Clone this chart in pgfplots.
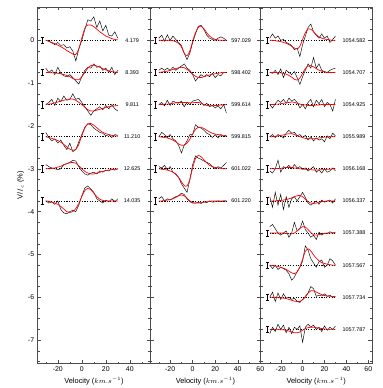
\documentclass[border=0pt]{standalone}
\usepackage{fontspec}
\setmainfont{Liberation Sans}
\usepackage{pgfplots}
\usepackage{pgfplotstable}
\pgfplotsset{compat=1.18}

% "I"-shaped mark for the error bar at the left of each profile
\pgfdeclareplotmark{ibar}{%
  \pgfpathmoveto{\pgfqpoint{0pt}{-\pgfplotmarksize}}%
  \pgfpathlineto{\pgfqpoint{0pt}{\pgfplotmarksize}}%
  \pgfpathmoveto{\pgfqpoint{-0.45\pgfplotmarksize}{\pgfplotmarksize}}%
  \pgfpathlineto{\pgfqpoint{0.45\pgfplotmarksize}{\pgfplotmarksize}}%
  \pgfpathmoveto{\pgfqpoint{-0.45\pgfplotmarksize}{-\pgfplotmarksize}}%
  \pgfpathlineto{\pgfqpoint{0.45\pgfplotmarksize}{-\pgfplotmarksize}}%
  \pgfusepathqstroke}

% black = observed profile, red = fit; columns bK/rK per profile
\pgfplotstableread{
x     b1    r1    b2    r2    b3    r3    b4    r4    b5    r5    b6    r6
-30   0     0     0.1   0     0     0     0.1   0     0.1   0     0     0
-27.5 -0.02 -0.02 0     0     0.05  0.01  -0.02 -0.02 0.05  0     -0.05 -0.01
-25   -0.06 -0.05 0.06  -0.01 0.12  0.02  -0.1  -0.04 0.02  0.01  -0.02 -0.03
-22.5 -0.1  -0.08 -0.05 -0.01 -0.02 0.04  -0.05 -0.06 0     0.02  -0.08 -0.05
-20   -0.05 -0.11 0.12  -0.02 0.15  0.06  -0.15 -0.09 -0.02 0.04  0     -0.08
-17.5 -0.12 -0.15 -0.02 -0.03 0.07  0.08  -0.08 -0.13 0     0.06  -0.2  -0.13
-15   -0.1  -0.19 -0.08 -0.05 0.2   0.1   -0.2  -0.18 0.1   0.09  -0.28 -0.19
-12.5 -0.18 -0.24 -0.1  -0.07 0.1   0.12  -0.3  -0.24 0.12  0.12  -0.3  -0.25
-10   -0.15 -0.28 -0.05 -0.1  0.12  0.13  -0.15 -0.29 0.15  0.14  -0.25 -0.27
-7.5  -0.25 -0.32 -0.12 -0.14 0.25  0.13  -0.35 -0.32 0.2   0.15  -0.22 -0.25
-5    -0.48 -0.33 -0.2  -0.17 0.12  0.1   -0.3  -0.3  0.18  0.13  -0.25 -0.18
-2.5  -0.2  -0.2  -0.27 -0.17 0.15  0.05  -0.12 -0.18 0.05  0.07  -0.1  -0.06
0     0     0.05  -0.1  -0.1  0.05  0     0.05  0.02  -0.05 0     0.12  0.1
2.5   0.25  0.28  0.05  0     -0.05 -0.06 0.22  0.2   -0.12 -0.06 0.3   0.24
5     0.48  0.36  0.12  0.1   -0.15 -0.12 0.3   0.3   -0.15 -0.1  0.35  0.29
7.5   0.45  0.36  0.1   0.16  -0.25 -0.15 0.28  0.31  -0.1  -0.12 0.28  0.26
10    0.55  0.32  0.2   0.17  -0.15 -0.15 0.2   0.27  -0.08 -0.12 0.2   0.18
12.5  0.3   0.26  0.12  0.15  -0.1  -0.13 0.15  0.21  -0.12 -0.1  0.05  0.1
15    0.45  0.2   0.15  0.12  -0.05 -0.11 0.1   0.15  -0.05 -0.08 0     0.04
17.5  0.22  0.15  0.05  0.09  -0.12 -0.09 0.08  0.1   -0.08 -0.06 -0.05 0.01
20    0.35  0.1   0.1   0.06  -0.02 -0.07 0.02  0.07  -0.03 -0.04 0.02  0
22.5  0.12  0.07  0     0.04  -0.1  -0.05 0.05  0.05  -0.05 -0.03 -0.02 0
25    0.1   0.04  0.12  0.02  0     -0.04 -0.02 0.03  0     -0.02 0.05  0
27.5  0.2   0.02  -0.05 0.01  -0.1  -0.03 0.05  0.02  -0.03 -0.01 -0.02 0
30    0.05  0.01  0.05  0     -0.15 -0.02 0.03  0.01  0     0     0.05  0
}\tabA

\pgfplotstableread{
x     b1    r1    b2    r2    b3    r3    b4    r4    b5    r5    b6    r6
-30   0.05  0     0.05  0     0     0     0     0     0.05  0     0.05  0
-27.5 0.12  0     0.1   0.01  0.05  0     0.1   -0.01 0.02  -0.01 0.1   0
-25   -0.02 0     0.05  0.02  -0.03 0.01  0.05  -0.02 0.08  -0.02 0     0.01
-22.5 0.13  0     0.1   0.03  0.1   0.01  -0.02 -0.03 -0.02 -0.03 0.05  0.02
-20   0     0     0.05  0.05  -0.02 0.02  0.05  -0.05 0.05  -0.05 0.02  0.03
-17.5 0.1   -0.01 0.12  0.07  0.08  0.03  -0.05 -0.08 -0.08 -0.08 0.06  0.05
-15   0.02  -0.03 0.05  0.09  0.05  0.04  -0.1  -0.12 -0.12 -0.13 0.1   0.08
-12.5 -0.05 -0.07 0.1   0.11  0.03  0.05  -0.2  -0.17 -0.2  -0.2  0.12  0.12
-10   -0.12 -0.15 0.15  0.12  0.08  0.05  -0.38 -0.2  -0.35 -0.3  0.18  0.14
-7.5  -0.3  -0.3  0.2   0.11  -0.05 0.05  -0.2  -0.2  -0.45 -0.39 0.15  0.12
-5    -0.45 -0.36 0.1   0.07  0.05  0.05  -0.1  -0.15 -0.55 -0.4  0.05  0.06
-2.5  -0.3  -0.25 0.05  0.02  0     0.04  0.05  -0.06 -0.25 -0.25 -0.02 0
0     -0.05 -0.02 -0.05 -0.04 0.08  0.04  0.05  0.06  0.1   0.02  -0.05 -0.04
2.5   0.15  0.18  -0.2  -0.09 0.1   0.05  0.28  0.17  0.3   0.24  -0.05 -0.05
5     0.33  0.3   -0.12 -0.12 0.12  0.05  0.22  0.22  0.25  0.31  -0.03 -0.05
7.5   0.35  0.33  -0.05 -0.12 0.05  0.03  0.2   0.22  0.22  0.28  -0.06 -0.04
10    0.25  0.27  -0.1  -0.1  -0.02 0     0.15  0.19  0.18  0.21  -0.02 -0.03
12.5  0.12  0.18  -0.05 -0.08 0.03  -0.02 0.08  0.15  0.15  0.14  -0.04 -0.02
15    0.05  0.1   -0.1  -0.06 -0.05 -0.03 0.05  0.11  0.12  0.08  0     -0.01
17.5  0.02  0.05  -0.02 -0.04 -0.02 -0.03 -0.02 0.08  0.05  0.05  -0.03 0
20    0     0.02  -0.12 -0.03 -0.08 -0.02 0.05  0.06  0     0.03  -0.02 0
22.5  0.05  0.01  -0.05 -0.02 -0.03 -0.02 -0.03 0.05  0.05  0.02  0     0
25    0.08  0     -0.08 -0.01 -0.1  -0.01 0.05  0.04  0.02  0.01  -0.02 0
27.5  0.05  0     0     0     0     -0.01 0     0.03  0.08  0     0     0
30    0     0     0     0     -0.2  0     0.02  0.03  0.15  0     0     0
}\tabB

\pgfplotstableread{
x     b1    r1    b2    r2    b3    r3    b4    r4    b5    r5    b6    r6    b7    r7    b8    r8    b9    r9    b10   r10
-30   0.05  0     0     0     0     0     0     0     -0.05 0     0.1   0     0.15  0     0     0     0     0     -0.1  0
-27.5 0.15  0     -0.02 0     -0.08 0     0.05  0     -0.1  0     -0.15 0     0.2   0     -0.08 -0.01 0.12  0     0.05  0
-25   0.05  -0.01 0.05  0     0.02  0.01  -0.02 0.01  0     0     0.2   0     0.1   0     0     -0.02 -0.1  0     -0.05 0
-22.5 0.1   -0.02 -0.05 -0.01 0.1   0.01  0.05  0.02  0.2   0.01  -0.1  0.01  0     0     -0.1  -0.03 0.1   -0.01 0.12  0
-20   0     -0.03 0.08  -0.01 0.05  0.02  0.02  0.03  -0.08 0.01  0.15  0.01  -0.05 0     -0.05 -0.05 -0.05 -0.01 0     -0.01
-17.5 0.02  -0.05 -0.12 -0.02 0.12  0.03  -0.03 0.04  0.05  0.02  -0.2  0.02  0     0     -0.08 -0.07 0.08  -0.02 0.1   -0.01
-15   -0.05 -0.07 0.05  -0.04 0.03  0.04  0.08  0.06  0.02  0.03  0.1   0.03  0.05  -0.01 -0.12 -0.1  -0.02 -0.03 -0.08 -0.02
-12.5 -0.08 -0.1  0     -0.07 0.15  0.05  0.15  0.07  0.08  0.03  -0.15 0.05  -0.1  -0.02 -0.2  -0.14 0     -0.05 0.05  -0.04
-10   -0.12 -0.14 -0.05 -0.11 0.08  0.06  0.08  0.07  0     0.03  0.05  0.07  0     -0.02 -0.35 -0.18 -0.05 -0.07 -0.1  -0.06
-7.5  -0.22 -0.18 0.02  -0.16 0.12  0.05  0.1   0.05  0.1   0.02  0.1   0.1   0.25  0     -0.28 -0.2  -0.02 -0.09 0.05  -0.08
-5    -0.18 -0.2  -0.12 -0.18 0.05  0.03  0.02  0.02  0.02  0.01  0     0.12  0.05  0.05  -0.15 -0.16 -0.1  -0.1  0     -0.08
-2.5  -0.38 -0.14 -0.28 -0.13 -0.08 0.01  0.05  0     0.05  0     0.1   0.13  0.1   0.11  -0.05 -0.04 -0.12 -0.1  0.08  -0.06
0     -0.1  0.02  -0.1  -0.02 0     0     -0.02 -0.02 0     -0.01 0.2   0.1   0.28  0.15  0.1   0.14  -0.05 -0.06 -0.3  -0.02
2.5   0.1   0.18  0.05  0.09  -0.1  -0.01 0.03  -0.04 0.02  -0.01 0.08  0.04  0.08  0.14  0.45  0.32  0     0.02  0.05  0.02
5     0.3   0.27  0.2   0.15  0.05  -0.02 -0.08 -0.05 -0.05 -0.02 -0.05 -0.02 0     0.08  0.35  0.38  0.1   0.1   0.12  0.04
7.5   0.38  0.26  0.1   0.16  0.12  -0.02 0     -0.05 0     -0.02 -0.1  -0.05 -0.1  0.01  0.15  0.33  0.25  0.15  0.05  0.05
10    0.2   0.2   0.35  0.13  -0.05 -0.02 -0.1  -0.05 0.05  -0.03 -0.05 -0.06 -0.05 -0.04 0.05  0.24  0.2   0.15  0.1   0.05
12.5  0.12  0.13  0.1   0.09  0.1   -0.01 -0.03 -0.04 -0.08 -0.03 0     -0.05 -0.15 -0.05 -0.05 0.16  0.02  0.12  0     0.04
15    0.05  0.08  0.2   0.05  0.02  -0.01 -0.08 -0.03 -0.02 -0.03 -0.08 -0.03 0.02  -0.04 0.08  0.1   0.05  0.09  0.05  0.03
17.5  0.15  0.05  0.05  0.03  0.12  0     -0.05 -0.02 -0.1  -0.02 0.02  -0.02 -0.05 -0.02 0.12  0.06  0.03  0.06  -0.05 0.02
20    0.05  0.03  0.02  0.01  -0.05 0     -0.12 -0.01 0     -0.02 -0.03 -0.01 0     -0.01 -0.05 0.04  0.08  0.04  0.08  0.01
22.5  0.1   0.02  0     0     0.05  0     0.02  -0.01 -0.08 -0.01 0     0     -0.02 0     0     0.02  0.02  0.03  -0.02 0
25    -0.05 0.01  0.05  0     0     0     -0.05 0     -0.05 -0.01 0.02  0     0.03  0     0.15  0.01  0.05  0.02  0.05  0
27.5  0.02  0     0.08  0     -0.15 0     0.08  0     0.02  0     -0.05 0     0     0     0.1   0     0     0.02  0     0
30    0.1   0     0.1   0     0.12  0     0.02  0     -0.05 0     0.05  0     0.02  0     0     0     0.02  0.01  0.08  0
}\tabC

% error bar position and line label of each profile
\pgfplotstableread{
ex  y      lx  name
-33 0      42  4.179
-33 -0.75  42  8.393
-33 -1.5   42  9.811
-33 -2.25  42  11.210
-33 -3.0   42  12.625
-33 -3.75  42  14.035
}\labA
\pgfplotstableread{
ex  y      lx  name
-33 0      43  597.029
-33 -0.75  43  598.402
-33 -1.5   43  599.614
-33 -2.25  43  599.815
-33 -3.0   43  601.022
-33 -3.75  43  601.220
}\labB
\pgfplotstableread{
ex  y      lx  name
-32 0      47  1054.582
-32 -0.75  47  1054.707
-32 -1.5   47  1054.925
-32 -2.25  47  1055.989
-32 -3.0   47  1056.168
-32 -3.75  47  1056.337
-32 -4.5   47  1057.388
-32 -5.25  47  1057.567
-32 -6.0   47  1057.734
-32 -6.75  47  1057.787
}\labC

\pgfplotsset{
  panel/.style={
    scale only axis, height=360pt, anchor=south west,
    ymin=-7.55, ymax=0.78,
    ytick={-7,...,0}, minor ytick={-7.5,-7.25,...,0.75},
    xtick={-20,0,20,40,60}, minor xtick={-30,-10,10,30,50},
    tick align=inside, major tick length=3.5pt, minor tick length=2pt,
    axis line style={black!70, line width=0.5pt},
    every tick/.style={black!70, line width=0.4pt},
    /pgf/number format/assume math mode=true,
    tick label style={font=\fontsize{7}{8}\selectfont},
    label style={font=\fontsize{7.5}{9}\selectfont},
    xlabel={Velocity ($km.s^{-1}$)},
    xlabel style={yshift=2pt},
    clip=false,
  },
  obs/.style={black, line width=0.45pt},
  fit/.style={red, line width=0.7pt, smooth},
  zero/.style={black, dotted, line width=0.6pt},
  ebar/.style={only marks, mark=ibar, mark size=3.3pt,
    mark options={black, line width=0.45pt}},
  lab/.style={only marks, mark=none, nodes near coords,
    point meta=explicit symbolic,
    every node near coord/.append style={anchor=center,
      font=\fontsize{5.5}{6}\selectfont, inner sep=0pt}},
}

\begin{document}
\begin{tikzpicture}
\path (0,0) rectangle (386pt,388pt);

\begin{axis}[panel, at={(38pt,21pt)}, width=113.7pt,
  xmin=-36.8, xmax=57.1, ylabel={V/$I_c$ (\%)}, ylabel style={yshift=-3pt}]
\pgfplotsinvokeforeach{1,...,6}{
  \addplot[zero] table[x=x, y expr=-0.75*(#1-1)] {\tabA};
  \addplot[obs] table[x=x, y expr=\thisrow{b#1}-0.75*(#1-1)] {\tabA};
  \addplot[fit] table[x=x, y expr=\thisrow{r#1}-0.75*(#1-1)] {\tabA};
}
\addplot[ebar] table[x=ex, y=y] {\labA};
\addplot[lab] table[x=lx, y=y, meta=name] {\labA};
\end{axis}

\begin{axis}[panel, at={(151.7pt,21pt)}, width=111.3pt,
  xmin=-37.6, xmax=60.3, yticklabels={}]
\pgfplotsinvokeforeach{1,...,6}{
  \addplot[zero] table[x=x, y expr=-0.75*(#1-1)] {\tabB};
  \addplot[obs] table[x=x, y expr=\thisrow{b#1}-0.75*(#1-1)] {\tabB};
  \addplot[fit] table[x=x, y expr=\thisrow{r#1}-0.75*(#1-1)] {\tabB};
}
\addplot[ebar] table[x=ex, y=y] {\labB};
\addplot[lab] table[x=lx, y=y, meta=name] {\labB};
\end{axis}

\begin{axis}[panel, at={(263pt,21pt)}, width=112.3pt,
  xmin=-38.4, xmax=63.3, yticklabels={}]
\pgfplotsinvokeforeach{1,...,10}{
  \addplot[zero] table[x=x, y expr=-0.75*(#1-1)] {\tabC};
  \addplot[obs] table[x=x, y expr=\thisrow{b#1}-0.75*(#1-1)] {\tabC};
  \addplot[fit] table[x=x, y expr=\thisrow{r#1}-0.75*(#1-1)] {\tabC};
}
\addplot[ebar] table[x=ex, y=y] {\labC};
\addplot[lab] table[x=lx, y=y, meta=name] {\labC};
\end{axis}
\end{tikzpicture}
\end{document}
